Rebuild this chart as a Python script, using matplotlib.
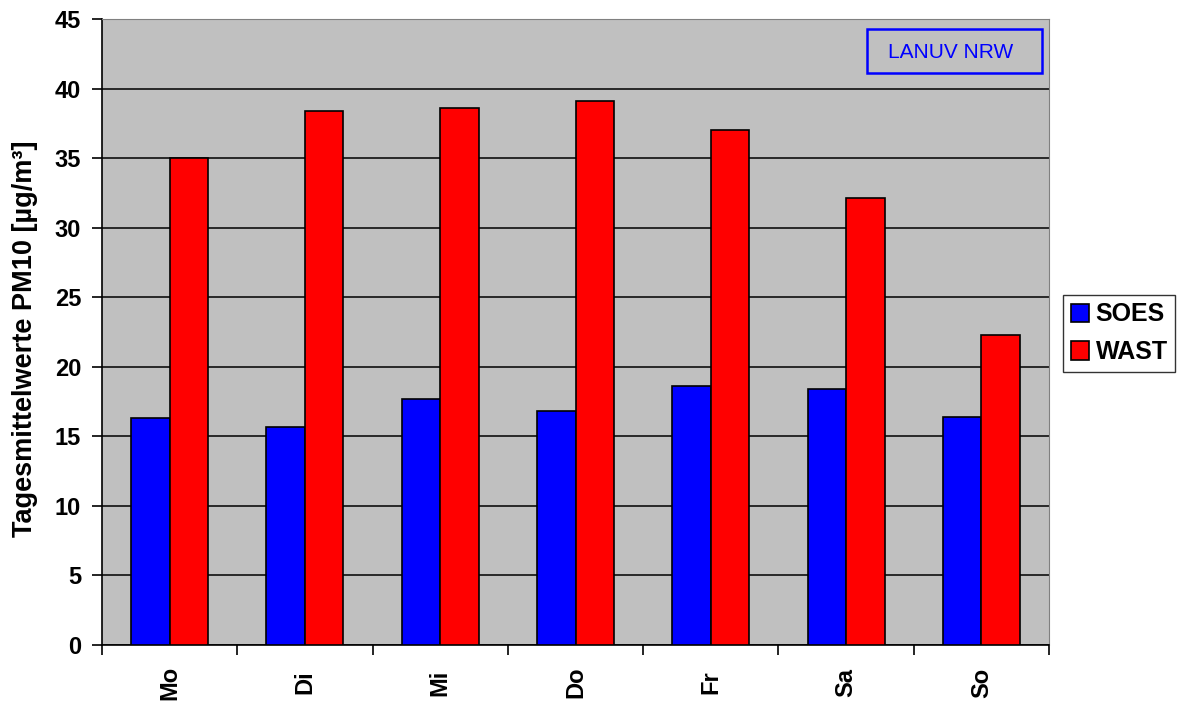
import numpy as np
from matplotlib import pyplot as plt
from matplotlib.patches import Rectangle

days = ['Mo', 'Di', 'Mi', 'Do', 'Fr', 'Sa', 'So']
soes = [16.3, 15.65, 17.65, 16.8, 18.6, 18.4, 16.4]
wast = [35.0, 38.4, 38.6, 39.1, 37.0, 32.1, 22.25]

plt.rcParams['font.family'] = ['Liberation Sans', 'DejaVu Sans']

W, H = 1180., 704.
fig = plt.figure(figsize=(11.8, 7.04), dpi=100)
ax = fig.add_axes([102/W, 1 - 645/H, (1049-102)/W, (645-19)/H])
ax.set_facecolor('#c0c0c0')

x = np.arange(len(days))
w = 0.285
ax.bar(x - w/2, soes, w, color='#0000ff', edgecolor='black', lw=1.2, label='SOES', zorder=3)
ax.bar(x + w/2, wast, w, color='#ff0000', edgecolor='black', lw=1.2, label='WAST', zorder=3)

ax.set_xlim(-0.5, len(days) - 0.5)
ax.set_ylim(0, 45)
ax.set_yticks(np.arange(0, 46, 5))
ax.yaxis.grid(True, color='black', lw=1.1, zorder=1)
ax.set_axisbelow(True)

ax.set_xticks(x)
ax.set_xticklabels(days, rotation=90, fontsize=17, fontweight='bold', va='center')
ax.set_xticks(np.arange(-0.5, len(days), 1), minor=True)
ax.tick_params(axis='x', which='major', length=0, pad=27)
ax.tick_params(axis='x', which='minor', length=7, width=1.2, direction='out')
ax.tick_params(axis='y', length=7, width=1.2, direction='out', labelsize=17, pad=8)
for t in ax.get_yticklabels():
    t.set_fontweight('bold')

for s in ['top', 'right']:
    ax.spines[s].set_color('#808080')
ax.spines['left'].set_linewidth(1.2)
ax.spines['bottom'].set_linewidth(1.2)

fig.text(12/W, 1 - 339/H, 'Tagesmittelwerte PM10 [µg/m³]', rotation=90,
         ha='left', va='center', fontsize=19.5, fontweight='bold')

leg = fig.legend(loc='upper left', bbox_to_anchor=(1063/W, 1 - 295/H), frameon=True,
                 fancybox=False, edgecolor='black', prop={'size': 18, 'weight': 'bold'},
                 handlelength=0.75, handleheight=0.75, handletextpad=0.25,
                 borderpad=0.3, labelspacing=0.55, borderaxespad=0.0)
leg.get_frame().set_linewidth(1.0)

# LANUV NRW Kasten
fig.patches.append(Rectangle((867/W, 1 - 73/H), (1042-867)/W, (73-29)/H,
                             transform=fig.transFigure, facecolor='none',
                             edgecolor='#0000ff', lw=1.8))
fig.text(951/W, 1 - 52/H, 'LANUV NRW', ha='center', va='center',
         color='#0000ff', fontsize=15)

fig.savefig('out.png', dpi=100)
